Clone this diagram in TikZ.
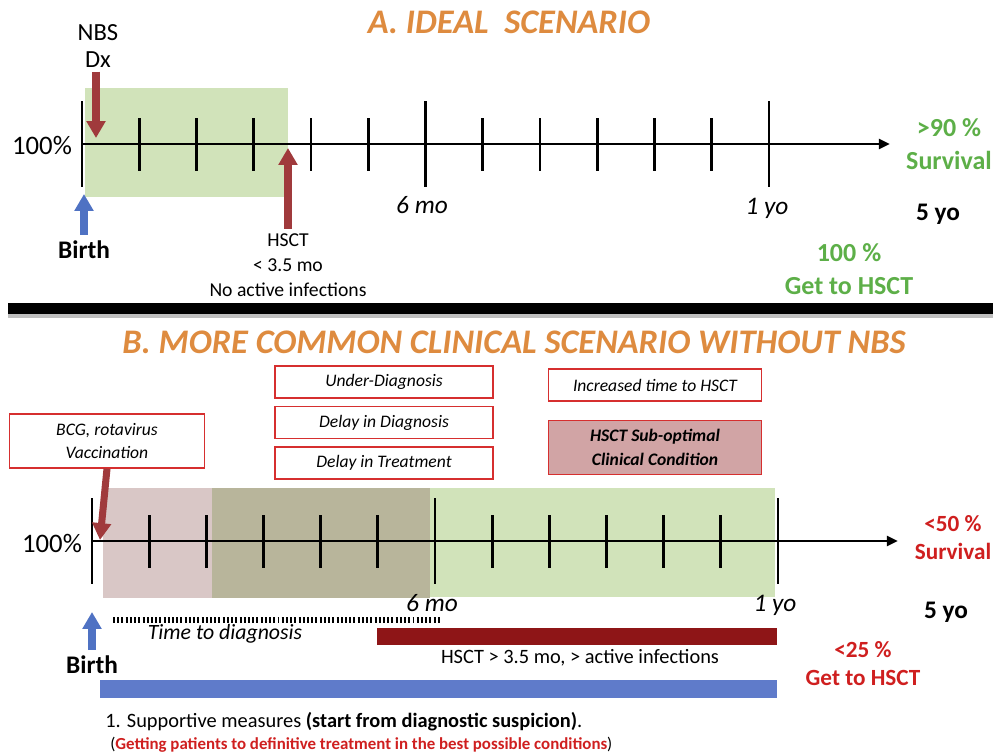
\documentclass[tikz,border=0pt]{standalone}
\usepackage{fontspec}
\setmainfont{Carlito}
\usetikzlibrary{positioning,arrows.meta,calc}
\definecolor{titleOrange}{HTML}{DE8B3F}
\definecolor{goodGreen}{HTML}{5DAF48}
\definecolor{badRed}{HTML}{CF1F1F}
\definecolor{arrowRed}{HTML}{A03A3C}
\definecolor{birthBlue}{HTML}{4F72C3}
\definecolor{zoneGreen}{HTML}{D1E3BA}
\definecolor{zonePink}{HTML}{D9C7C6}
\definecolor{zoneOlive}{HTML}{B8B59B}
\definecolor{boxBorder}{HTML}{D62F2F}
\definecolor{boxFill}{HTML}{D1A4A5}
\definecolor{barRed}{HTML}{8E1517}
\definecolor{barBlue}{HTML}{5F7BCA}
\newcommand{\fsz}[2]{\fontsize{#1}{#2}\selectfont}

\begin{document}
\begin{tikzpicture}[
  x=0.025cm, y=-0.025cm,
  title/.style={font=\fsz{24.5}{28}\bfseries\itshape, text=titleOrange, inner sep=0pt},
  lbl/.style={font=\fsz{17.5}{19}, align=center, inner sep=0pt},
  small/.style={font=\fsz{14}{18}, align=center, inner sep=0pt},
  big/.style={font=\fsz{19}{22}, align=center, inner sep=0pt},
  bold/.style={font=\fsz{18}{23}\bfseries, align=center, inner sep=0pt},
  age/.style={font=\fsz{18}{22}\itshape, inner sep=0pt},
  result/.style={font=\fsz{18.5}{23}\bfseries, align=center, inner sep=0pt},
  resultB/.style={font=\fsz{16.5}{20}\bfseries, align=center, inner sep=0pt},
  axis/.style={line width=2pt, -{Triangle[length=8pt,width=7pt]}},
  tick/.style={line width=2pt},
  fatarrow/.style={line width=5pt, -{Triangle[length=12pt,width=13pt]}},
  redbox/.style={draw=boxBorder, line width=1pt, fill=white, inner sep=0pt,
    font=\fsz{12.5}{16}\itshape, align=center, minimum width=5.45cm, minimum height=0.8cm},
]
  \useasboundingbox (0,0) rectangle (993,752);

  % A. ideal scenario
  \node[title] (titleA) at (509,22) {A. IDEAL\ \ SCENARIO};
  \fill[zoneGreen] (85,88) rectangle (288,197);
  \coordinate (a0) at (82,144);
  \coordinate (aend) at (890,144);
  \draw[axis] (a0) -- (aend);
  \foreach \i in {1,...,5,7,8,...,11}
    \draw[tick] ($(a0)+(\i*57.25,-26)$) -- ++(0,53);
  \foreach \i in {0,6,12}
    \draw[tick] ($(a0)+(\i*57.25,-43)$) -- ++(0,86);

  \node[big] (pctA) at (42,145) {100\%};
  \node[age] (moA) at (422,205) {6 mo};
  \node[age] (yoA) at (767,208) {1 yo};
  \node[bold] (fiveA) at (938,214) {5 yo};

  \node[lbl] (nbs) at (98,46) {NBS\\Dx};
  \coordinate (nbstip) at (96,138);
  \draw[fatarrow, arrowRed] (nbs.south -| nbstip) ++(0,4) -- (nbstip);

  \node[small] (hsctA) at (288,265) {HSCT\\< 3.5 mo\\No active infections};
  \coordinate (hscttip) at (288,148);
  \draw[fatarrow, arrowRed] (hsctA.north) ++(0,-4) -- (hscttip);

  \node[bold] (birthA) at (84,250) {Birth};
  \coordinate (birthtipA) at (84,194);
  \draw[fatarrow, birthBlue] (birthA.north) ++(0,-6) -- (birthtipA);

  \node[result, text=goodGreen] (survA) at (949,144) {>90 \%\\Survival};
  \node[result, text=goodGreen] (getA) at (849,269) {100 \%\\Get to HSCT};

  % separator
  \fill[black!25] (8,314) rectangle (993,318);
  \fill[black] (8,303) rectangle (993,314);

  % B. without NBS
  \node[title] (titleB) at (514,342) {B. MORE COMMON CLINICAL SCENARIO WITHOUT NBS};
  \fill[zonePink] (103,488) rectangle (212,598);
  \fill[zoneOlive] (212,488) rectangle (430,598);
  \fill[zoneGreen] (430,488) rectangle (775,597);
  \coordinate (b0) at (92,541);
  \coordinate (bend) at (898,541);
  \draw[axis] (b0) -- (bend);
  \foreach \i in {1,...,5,7,8,...,11}
    \draw[tick] ($(b0)+(\i*57.17,-26)$) -- ++(0,53);
  \foreach \i in {0,6,12}
    \draw[tick] ($(b0)+(\i*57.17,-43)$) -- ++(0,86);

  \node[redbox] (under) at (384,382) {Under-Diagnosis};
  \node[redbox, below=0.175cm of under] (delayDx) {Delay in Diagnosis};
  \node[redbox, below=0.175cm of delayDx] (delayTx) {Delay in Treatment};
  \node[redbox, minimum width=4.875cm, minimum height=1.35cm] (bcg) at (107,441) {BCG, rotavirus\\Vaccination};
  \node[redbox, minimum width=5.325cm] (incr) at (655,385) {Increased time to HSCT};
  \node[redbox, minimum width=5.325cm, minimum height=1.35cm, fill=boxFill,
    font=\fsz{12.5}{17}\bfseries\itshape, below=0.45cm of incr] (subopt) {HSCT Sub-optimal\\Clinical Condition};

  \coordinate (bcgtip) at (100,540);
  \draw[fatarrow, arrowRed] (bcg.south) -- (bcgtip);

  \node[big] (pctB) at (52,543) {100\%};
  \node[resultB, text=badRed] (survB) at (953,538) {<50 \%\\Survival};
  \node[age] (moB) at (432,603) {6 mo};
  \node[age] (yoB) at (775,605) {1 yo};
  \node[bold] (fiveB) at (946,612) {5 yo};

  \node[bold] (birthB) at (92,665) {Birth};
  \coordinate (birthtipB) at (92,612);
  \draw[fatarrow, birthBlue] (birthB.north) ++(0,-6) -- (birthtipB);

  \coordinate (dotL) at (113,620);
  \coordinate (dotR) at (441,620);
  \draw[line width=4pt, dash pattern=on 1.4pt off 1.6pt] (dotL) -- (dotR);
  \node[font=\fsz{15.5}{18}\itshape, inner sep=0pt] (ttd) at (225,634) {Time to diagnosis};

  \fill[barRed] (377,628) rectangle (777,645);
  \node[font=\fsz{14.5}{18}, inner sep=0pt] (hsctB) at (580,658) {HSCT > 3.5 mo, > active infections};
  \node[resultB, text=badRed] (getB) at (863,664) {<25 \%\\Get to HSCT};

  \fill[barBlue] (100,680) rectangle (777,698);
  \node[font=\fsz{14.5}{17}, anchor=west, inner sep=0pt] (support) at (105,722)
    {1. Supportive measures \textbf{(start from diagnostic suspicion)}.};
  \node[font=\fsz{12}{14}, anchor=west, inner sep=0pt] (goal) at (110,745)
    {(\textcolor{badRed}{\textbf{Getting patients to definitive treatment in the best possible conditions}})};
\end{tikzpicture}
\end{document}
